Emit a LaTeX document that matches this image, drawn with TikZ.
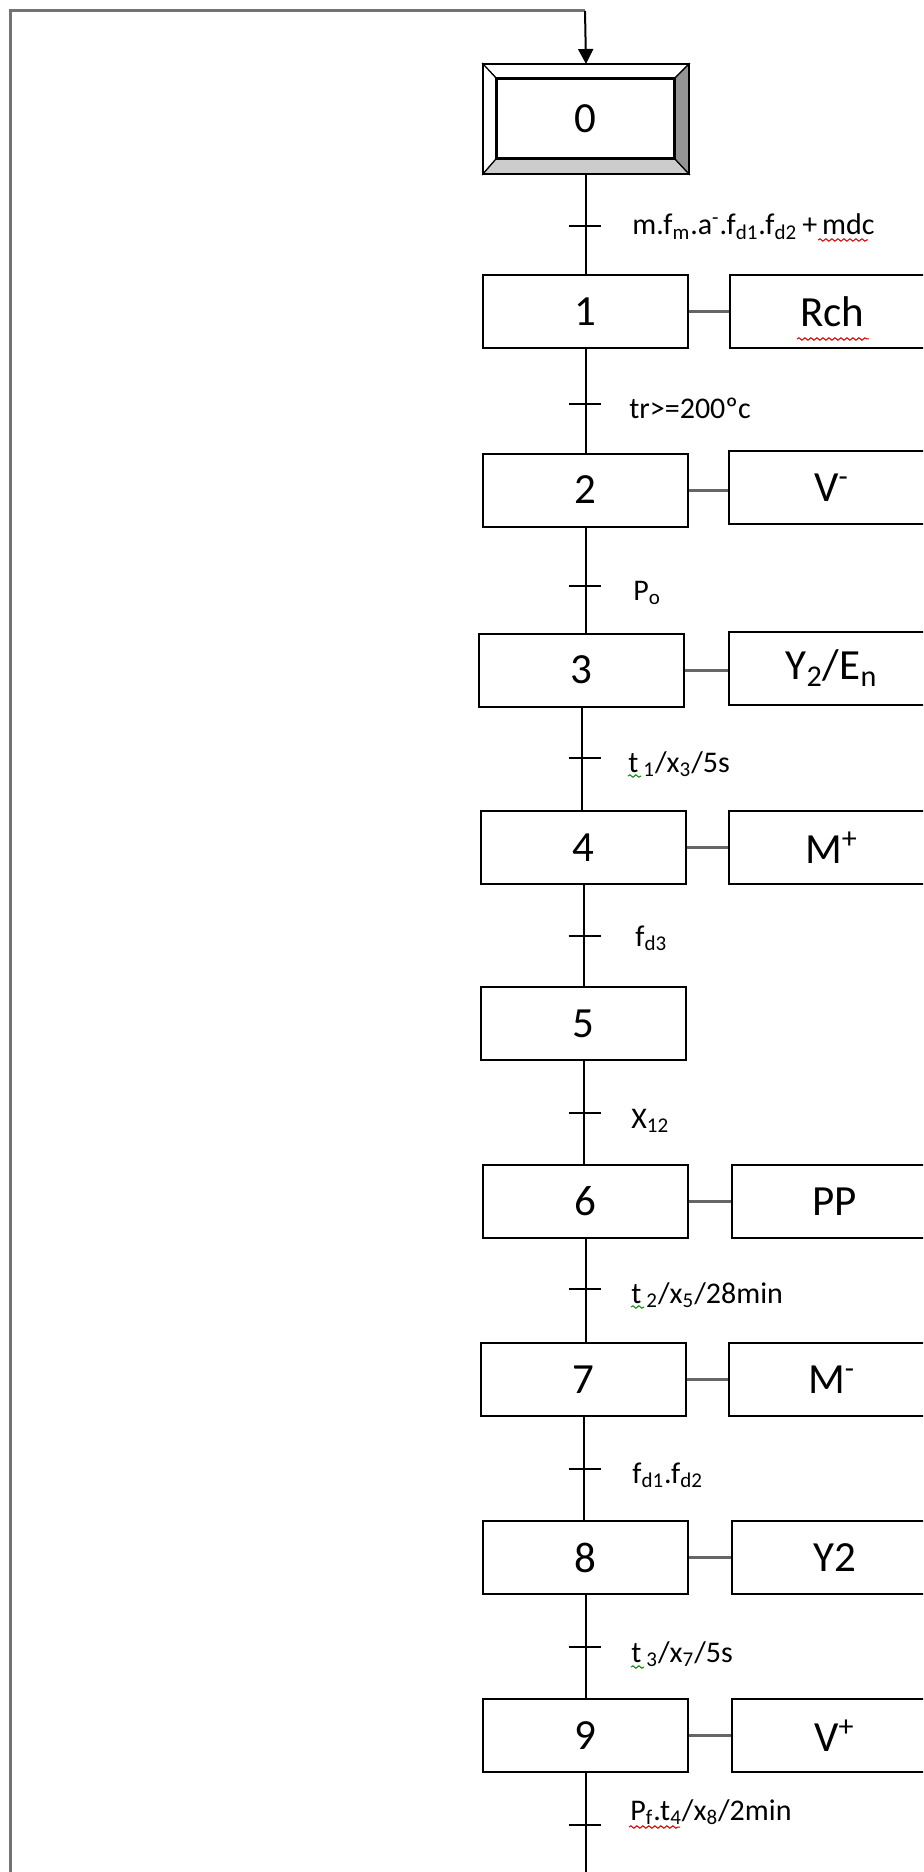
\documentclass[tikz,border=0pt]{standalone}
\usepackage{fontspec}
\setmainfont{Carlito}
\usetikzlibrary{arrows.meta,decorations.pathmorphing}
\begin{document}
\begin{tikzpicture}[x=0.5pt,y=-0.5pt,
  stepbox/.style={draw,line width=1pt,minimum width=102.5pt,minimum height=36.5pt,inner sep=0pt,font=\fontsize{21.5}{24}\selectfont},
  actbox/.style={stepbox},
  flow/.style={line width=1pt},
  link/.style={draw=black!60,line width=1.5pt},
  tickmark/.style={line width=1pt},
  cond/.style={anchor=base west,inner sep=0pt,font=\fontsize{15}{18}\selectfont},
  loopline/.style={draw=black!55,line width=1.5pt},
  redwave/.style={draw=red!85!black,line width=0.5pt,decorate,decoration={snake,segment length=3pt,amplitude=0.6pt}},
  greenwave/.style={draw=green!55!black,line width=0.5pt,decorate,decoration={snake,segment length=3pt,amplitude=0.6pt}}]
\useasboundingbox (0,0) rectangle (923,1872);
\clip (0,0) rectangle (923,1872);

% initial step
\node[draw,line width=1pt,minimum width=102pt,minimum height=54pt,inner sep=0pt] (s0) at (586,119) {};
\node[draw,line width=1pt,minimum width=88.5pt,minimum height=39.5pt,inner sep=0pt] (s0i) at (585.5,118.5) {};
\filldraw[fill=white,draw=black,line width=0.6pt] (s0.north west) -- (s0.north east) -- (s0i.north east) -- (s0i.north west) -- cycle;
\filldraw[fill=white,draw=black,line width=0.6pt] (s0.north west) -- (s0.south west) -- (s0i.south west) -- (s0i.north west) -- cycle;
\filldraw[fill=black!20,draw=black,line width=0.6pt] (s0.south west) -- (s0.south east) -- (s0i.south east) -- (s0i.south west) -- cycle;
\filldraw[fill=black!42,draw=black,line width=0.6pt] (s0.north east) -- (s0.south east) -- (s0i.south east) -- (s0i.north east) -- cycle;
\draw[line width=1pt] (s0.north west) rectangle (s0.south east);
\draw[line width=1pt] (s0i.north west) rectangle (s0i.south east);
\node[font=\fontsize{21.5}{24}\selectfont] at (s0i.center) {0};

% steps
\node[stepbox] (s1) at (585.5,312) {1};
\node[stepbox] (s2) at (585.5,490) {2};
\node[stepbox] (s3) at (581.5,670) {3};
\node[stepbox] (s4) at (583.5,847.5) {4};
\node[stepbox] (s5) at (583.5,1023.5) {5};
\node[stepbox] (s6) at (585.5,1201.5) {6};
\node[stepbox] (s7) at (583.5,1379.5) {7};
\node[stepbox] (s8) at (585.5,1557.5) {8};
\node[stepbox] (s9) at (585.5,1735.5) {9};

% actions
\node[actbox] (a1) at (832.5,311.5) {Rch};
\node[actbox] (a2) at (831.5,487.5) {V\textsuperscript{-}};
\node[actbox] (a3) at (831.5,668) {Y\textsubscript{2}/E\textsubscript{n}};
\node[actbox] (a4) at (831.5,847.5) {M\textsuperscript{+}};
\node[actbox] (a6) at (834.5,1201.5) {PP};
\node[actbox] (a7) at (831.5,1379.5) {M\textsuperscript{-}};
\node[actbox] (a8) at (834.5,1557.5) {Y2};
\node[actbox] (a9) at (834.5,1735.5) {V\textsuperscript{+}};

\foreach \i in {1,2,3,4,6,7,8,9}{
  \draw[link] (s\i.east) -- (s\i.east -| a\i.west);
}

% flow lines
\draw[flow] (s0.south) -- (s0.south |- s1.north);
\draw[flow] (s1.south) -- (s1.south |- s2.north);
\draw[flow] (s2.south) -- (s2.south |- s3.north);
\draw[flow] (s3.south) -- (s3.south |- s4.north);
\draw[flow] (s4.south) -- (s4.south |- s5.north);
\draw[flow] (s5.south) -- (s5.south |- s6.north);
\draw[flow] (s6.south) -- (s6.south |- s7.north);
\draw[flow] (s7.south) -- (s7.south |- s8.north);
\draw[flow] (s8.south) -- (s8.south |- s9.north);
\coordinate (bot) at (585.5,1872);
\draw[flow] (s9.south) -- (bot);

% loop back
\coordinate (lb) at (10,1872);
\coordinate (tc) at (585,11);
\draw[loopline] (lb) |- (tc);
\draw[line width=1pt,-{Triangle[length=7.5pt,width=7.5pt]}] (tc) -- (s0.north);

% transitions
\foreach \n/\yy in {01/226,12/404,23/586,34/758,45/936,56/1113,67/1289,78/1469,89/1647,9b/1825}{
  \coordinate (c\n) at (584.5,\yy);
  \draw[tickmark] ([xshift=-8pt]c\n) -- ([xshift=8pt]c\n);
}
\node[cond] (l01) at (632,235) {m.f\textsubscript{m}.a\textsuperscript{-}.f\textsubscript{d1}.f\textsubscript{d2}\,+\,mdc};
\node[cond] (l12) at (629,418) {tr>=200ºc};
\node[cond] (l23) at (633,600) {P\textsubscript{o}};
\node[cond] (l34) at (628,772) {t\,\textsubscript{1}/x\textsubscript{3}/5s};
\node[cond] (l45) at (635,946) {f\textsubscript{d3}};
\node[cond] (l56) at (631,1128) {X\textsubscript{12}};
\node[cond] (l67) at (631,1303) {t\,\textsubscript{2}/x\textsubscript{5}/28min};
\node[cond] (l78) at (632,1483) {f\textsubscript{d1}.f\textsubscript{d2}};
\node[cond] (l89) at (631,1662) {t\,\textsubscript{3}/x\textsubscript{7}/5s};
\node[cond] (l9b) at (630,1820) {P\textsubscript{f}.t\textsubscript{4}/x\textsubscript{8}/2min};

% spelling marks
\draw[redwave] (818,240) -- (868,240);
\draw[redwave] (797,339) -- (869,339);
\draw[greenwave] (628,776) -- (641,776);
\draw[greenwave] (631,1307) -- (644,1307);
\draw[greenwave] (631,1667) -- (644,1667);
\draw[redwave] (629,1827) -- (680,1827);
\end{tikzpicture}
\end{document}
